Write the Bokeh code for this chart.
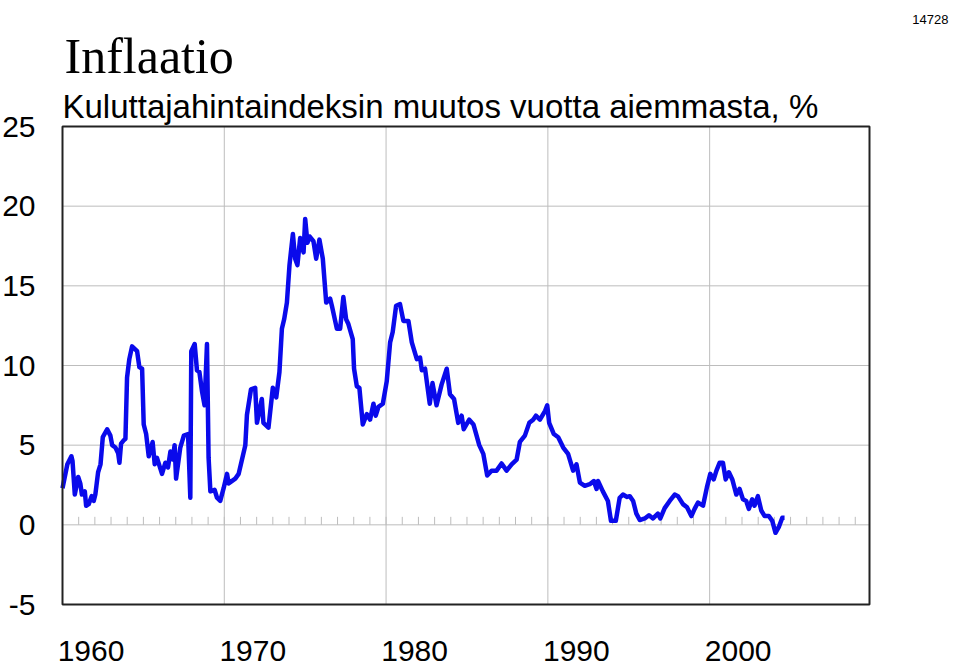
from bokeh.plotting import figure
from bokeh.models import Label, Range1d
from bokeh.embed import file_html
from bokeh.resources import INLINE

# --- data ---
years = [
    1960.00, 1960.30, 1960.55, 1960.62, 1960.76, 1960.97, 1961.10, 1961.20, 1961.38, 1961.46,
    1961.62, 1961.80, 1961.93, 1962.03, 1962.20, 1962.35, 1962.49, 1962.76, 1962.96, 1963.07,
    1963.27, 1963.44, 1963.52, 1963.62, 1963.78, 1963.89, 1963.99, 1964.13, 1964.30, 1964.61,
    1964.75, 1964.92, 1965.02, 1965.17, 1965.33, 1965.57, 1965.70, 1965.84, 1966.15, 1966.36,
    1966.52, 1966.67, 1966.81, 1966.93, 1967.02, 1967.28, 1967.50, 1967.76, 1967.90, 1967.96,
    1968.17, 1968.31, 1968.46, 1968.62, 1968.78, 1968.93, 1969.03, 1969.14, 1969.40, 1969.55,
    1969.75, 1969.96, 1970.17, 1970.27, 1970.68, 1970.89, 1971.30, 1971.40, 1971.65, 1971.91,
    1972.02, 1972.32, 1972.42, 1972.73, 1973.00, 1973.21, 1973.41, 1973.56, 1973.70, 1973.87,
    1974.03, 1974.24, 1974.38, 1974.52, 1974.69, 1974.90, 1975.00, 1975.14, 1975.27, 1975.51,
    1975.68, 1975.88, 1976.09, 1976.30, 1976.54, 1976.65, 1976.96, 1977.16, 1977.36, 1977.53,
    1977.67, 1977.94, 1978.02, 1978.19, 1978.35, 1978.56, 1978.81, 1979.01, 1979.22, 1979.36,
    1979.53, 1979.80, 1980.04, 1980.25, 1980.41, 1980.62, 1980.86, 1981.07, 1981.38, 1981.59,
    1981.90, 1982.10, 1982.21, 1982.41, 1982.70, 1982.87, 1983.12, 1983.43, 1983.75, 1983.95,
    1984.20, 1984.46, 1984.67, 1984.80, 1985.14, 1985.40, 1985.76, 1986.01, 1986.25, 1986.52,
    1986.83, 1987.14, 1987.45, 1987.76, 1988.07, 1988.27, 1988.58, 1988.85, 1989.09, 1989.26,
    1989.51, 1989.83, 1989.96, 1990.08, 1990.37, 1990.64, 1990.95, 1991.25, 1991.56, 1991.77,
    1991.98, 1992.28, 1992.59, 1992.84, 1993.01, 1993.10, 1993.40, 1993.71, 1993.90, 1994.20,
    1994.44, 1994.64, 1994.90, 1995.06, 1995.27, 1995.47, 1995.68, 1995.99, 1996.25, 1996.50,
    1996.80, 1996.95, 1997.22, 1997.53, 1997.84, 1998.04, 1998.35, 1998.60, 1998.87, 1999.07,
    1999.28, 1999.59, 1999.83, 2000.04, 2000.25, 2000.42, 2000.62, 2000.82, 2000.99, 2001.19,
    2001.40, 2001.65, 2001.85, 2002.06, 2002.26, 2002.42, 2002.63, 2002.77, 2002.98, 2003.19,
    2003.40, 2003.66, 2003.87, 2004.07, 2004.27, 2004.49, 2004.63,
]
inflation = [
    2.3, 3.8, 4.3, 4.0, 1.9, 3.0, 2.6, 1.9, 2.1, 1.2,
    1.3, 1.8, 1.5, 1.9, 3.3, 3.8, 5.5, 6.0, 5.6, 5.0,
    4.85, 4.5, 3.9, 5.1, 5.3, 5.4, 9.25, 10.4, 11.2, 10.9,
    9.9, 9.8, 6.3, 5.7, 4.3, 5.2, 3.8, 4.2, 3.2, 3.9,
    3.6, 4.6, 4.1, 5.0, 2.9, 4.85, 5.6, 5.7, 1.7, 10.9,
    11.35, 9.7, 9.6, 8.4, 7.5, 11.35, 4.2, 2.1, 2.2, 1.7,
    1.5, 2.3, 3.2, 2.6, 2.9, 3.2, 5.0, 6.9, 8.5, 8.6,
    6.4, 7.9, 6.4, 6.1, 8.6, 8.0, 9.6, 12.3, 12.9, 13.95,
    16.3, 18.25, 16.7, 16.3, 18.0, 17.1, 19.2, 17.7, 18.1, 17.8,
    16.7, 17.9, 16.7, 13.95, 14.2, 13.75, 12.3, 12.3, 14.3, 12.9,
    12.6, 11.65, 9.8, 8.7, 8.6, 6.3, 6.95, 6.6, 7.6, 6.85,
    7.4, 7.6, 9.0, 11.45, 12.1, 13.75, 13.85, 12.8, 12.8, 11.45,
    10.4, 10.5, 9.7, 9.8, 7.6, 8.9, 7.5, 8.8, 9.8, 8.2,
    7.9, 6.4, 6.85, 6.0, 6.6, 6.3, 5.0, 4.45, 3.1, 3.4,
    3.4, 3.85, 3.4, 3.8, 4.1, 5.2, 5.6, 6.4, 6.6, 6.85,
    6.6, 7.15, 7.5, 6.4, 5.7, 5.5, 4.85, 4.45, 3.4, 3.8,
    2.65, 2.45, 2.55, 2.75, 2.25, 2.75, 2.1, 1.5, 0.25, 0.25,
    1.7, 1.9, 1.75, 1.8, 1.5, 0.7, 0.3, 0.4, 0.6, 0.4,
    0.7, 0.4, 1.05, 1.5, 1.9, 1.8, 1.3, 1.1, 0.55, 1.0,
    1.4, 1.2, 2.35, 3.2, 2.85, 3.4, 3.9, 3.9, 2.85, 3.3,
    2.85, 1.9, 2.25, 1.6, 1.5, 1.0, 1.6, 1.2, 1.8, 0.9,
    0.55, 0.55, 0.25, -0.5, -0.15, 0.45, 0.45,
]
y_ticks = [-5, 0, 5, 10, 15, 20, 25]
y_tick_labels = ["-5", "0", "5", "10", "15", "20", "25"]
y_grid_values = [0, 5, 10, 15, 20]
x_label_years = [1960, 1970, 1980, 1990, 2000]
x_tick_labels = ["1960", "1970", "1980", "1990", "2000"]
x_grid_years = [1970, 1980, 1990, 2000]
year_ticks = list(range(1961, 2010))

title_text = "Inflaatio"
subtitle_text = "Kuluttajahintaindeksin muutos vuotta aiemmasta, %"
corner_text = "14728"

# --- layout (pixels) ---
W, H = 951, 667
BOX_L, BOX_R, BOX_T, BOX_B = 62, 869, 126, 604
X_MIN, X_MAX = 1960, 2009.88       # plot box extent in data
Y_MIN, Y_MAX = -5, 25
sx = (BOX_R - BOX_L) / (X_MAX - X_MIN)
sy = (BOX_B - BOX_T) / (Y_MAX - Y_MIN)
x_range = Range1d(X_MIN - BOX_L / sx, X_MIN + (W - BOX_L) / sx)
y_range = Range1d(Y_MIN - (H - BOX_B) / sy, Y_MAX + BOX_T / sy)

GRID = "#bdbdbd"
SANS = "Liberation Sans"

p = figure(width=W, height=H, x_range=x_range, y_range=y_range,
           x_axis_location=None, y_axis_location=None,
           output_backend="svg", toolbar_location=None,
           min_border_left=0, min_border_right=0,
           min_border_top=0, min_border_bottom=0)
p.grid.visible = False
p.background_fill_color = "white"
p.border_fill_color = "white"
p.outline_line_color = None

# grid lines inside the plot box
p.segment(x0=x_grid_years, y0=Y_MIN, x1=x_grid_years, y1=Y_MAX,
          line_color=GRID, line_width=1)
p.segment(x0=X_MIN, y0=y_grid_values, x1=X_MAX, y1=y_grid_values,
          line_color=GRID, line_width=1)

# small yearly ticks on the zero line
tick_len = 8 / sy
p.segment(x0=year_ticks, y0=0, x1=year_ticks, y1=tick_len,
          line_color=GRID, line_width=1)

p.line(years, inflation, line_color="#0a0aeb", line_width=4.5, line_join="round")

# plot box
p.quad(left=X_MIN, right=X_MAX, bottom=Y_MIN, top=Y_MAX,
       fill_color=None, line_color="#222222", line_width=2)

# y tick labels
for yv, txt in zip(y_ticks, y_tick_labels):
    p.add_layout(Label(x=X_MIN, y=yv, x_offset=-27, text=txt,
                       text_align="right", text_baseline="middle",
                       text_font=SANS, text_font_size="30px", text_color="black"))
# x tick labels
for yr, txt in zip(x_label_years, x_tick_labels):
    p.add_layout(Label(x=yr, y=Y_MIN, x_offset=28.5, y_offset=-46, text=txt,
                       text_align="center", text_baseline="middle",
                       text_font=SANS, text_font_size="30px", text_color="black"))

p.add_layout(Label(x=X_MIN, y=Y_MAX, x_offset=2, y_offset=71, text=title_text,
                   text_align="left", text_baseline="alphabetic",
                   text_font="Liberation Serif", text_font_size="50px", text_color="black"))
p.add_layout(Label(x=X_MIN, y=Y_MAX, x_offset=0, y_offset=20, text=subtitle_text,
                   text_align="left", text_baseline="alphabetic",
                   text_font=SANS, text_font_size="33px", text_color="black"))
p.add_layout(Label(x=X_MAX, y=Y_MAX, x_offset=79, y_offset=107, text=corner_text,
                   text_align="right", text_baseline="alphabetic",
                   text_font=SANS, text_font_size="13px", text_color="black"))

open("out.html", "w").write(file_html(p, INLINE))
